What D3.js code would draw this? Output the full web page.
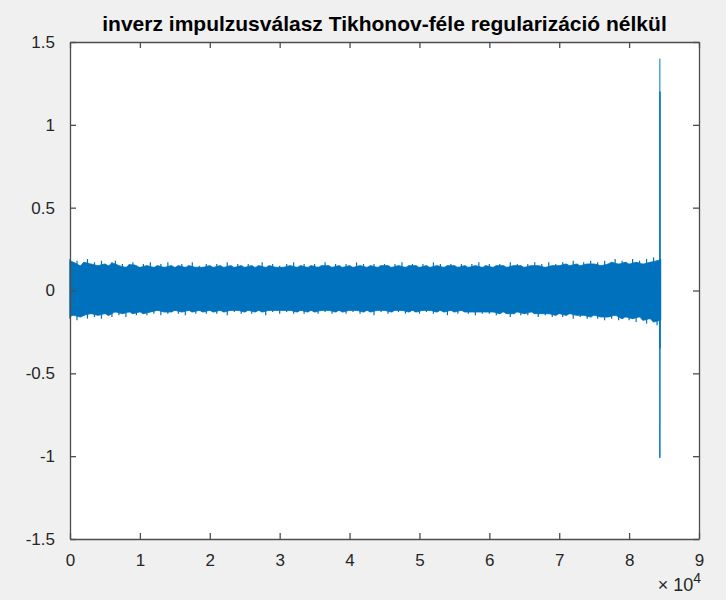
<!DOCTYPE html>
<html>
<head>
<meta charset="utf-8">
<script src="https://cdn.jsdelivr.net/npm/d3@7"></script>
<style>
body{margin:0;background:#f0f0f0;}
svg{display:block;font-family:"Liberation Sans",Arial,sans-serif;}
</style>
</head>
<body>
<svg id="svg" width="726" height="600"></svg>
<script>
var step=500;
var upper=[
0.19,0.17,0.18,0.15,0.17,0.19,0.16,0.17,0.15,0.18,
0.16,0.15,0.17,0.18,0.15,0.16,0.14,0.16,0.17,0.15,
0.14,0.16,0.15,0.17,0.14,0.15,0.16,0.14,0.17,0.15,
0.14,0.15,0.16,0.14,0.15,0.17,0.14,0.15,0.14,0.16,
0.15,0.14,0.16,0.15,0.14,0.17,0.15,0.14,0.16,0.15,
0.14,0.16,0.15,0.14,0.15,0.17,0.14,0.15,0.16,0.14,
0.15,0.14,0.16,0.15,0.17,0.14,0.15,0.16,0.14,0.15,
0.16,0.14,0.15,0.17,0.15,0.14,0.16,0.15,0.14,0.16,
0.15,0.14,0.17,0.15,0.16,0.14,0.15,0.16,0.14,0.15,
0.16,0.15,0.14,0.16,0.15,0.17,0.14,0.15,0.16,0.15,
0.14,0.16,0.15,0.14,0.17,0.15,0.16,0.14,0.15,0.16,
0.15,0.14,0.16,0.15,0.14,0.16,0.15,0.17,0.14,0.15,
0.16,0.14,0.15,0.16,0.15,0.14,0.17,0.15,0.16,0.15,
0.14,0.16,0.15,0.17,0.15,0.16,0.14,0.17,0.15,0.16,
0.15,0.17,0.16,0.15,0.18,0.16,0.15,0.17,0.16,0.18,
0.16,0.17,0.15,0.18,0.16,0.17,0.19,0.16,0.18,0.17,
0.16,0.19,0.17,0.18,0.16,0.19,0.17,0.20,0.18,0.19];
var lower=[
-0.17,-0.15,-0.18,-0.16,-0.15,-0.17,-0.14,-0.16,-0.15,-0.17,
-0.14,-0.15,-0.16,-0.13,-0.15,-0.14,-0.16,-0.13,-0.14,-0.15,
-0.13,-0.14,-0.15,-0.13,-0.14,-0.12,-0.15,-0.13,-0.14,-0.13,
-0.12,-0.14,-0.13,-0.15,-0.12,-0.13,-0.14,-0.12,-0.13,-0.14,
-0.12,-0.13,-0.14,-0.12,-0.13,-0.15,-0.12,-0.13,-0.12,-0.14,
-0.13,-0.12,-0.14,-0.13,-0.12,-0.13,-0.15,-0.12,-0.13,-0.12,
-0.14,-0.12,-0.13,-0.12,-0.14,-0.13,-0.12,-0.14,-0.13,-0.12,
-0.13,-0.14,-0.12,-0.13,-0.12,-0.14,-0.13,-0.12,-0.13,-0.14,
-0.12,-0.13,-0.12,-0.14,-0.13,-0.12,-0.13,-0.15,-0.12,-0.13,
-0.12,-0.14,-0.13,-0.12,-0.13,-0.12,-0.14,-0.13,-0.12,-0.13,
-0.14,-0.12,-0.13,-0.12,-0.14,-0.13,-0.12,-0.13,-0.15,-0.12,
-0.13,-0.14,-0.12,-0.13,-0.14,-0.13,-0.15,-0.13,-0.14,-0.13,
-0.14,-0.13,-0.15,-0.14,-0.13,-0.14,-0.16,-0.14,-0.13,-0.15,
-0.14,-0.15,-0.13,-0.14,-0.16,-0.14,-0.15,-0.14,-0.16,-0.15,
-0.14,-0.16,-0.15,-0.14,-0.17,-0.15,-0.16,-0.15,-0.17,-0.16,
-0.15,-0.17,-0.16,-0.18,-0.16,-0.17,-0.15,-0.18,-0.17,-0.16,
-0.18,-0.17,-0.19,-0.16,-0.18,-0.20,-0.17,-0.19,-0.21,-0.18];
// the spike near the end of the response
var spikeX=[84400,84400,84420,84420,84440,84440];
var spikeY=[1.4,-1.01,1.2,-0.35,0.1,0];

var xTicks=[0,10000,20000,30000,40000,50000,60000,70000,80000,90000];
var xTickLabels=["0","1","2","3","4","5","6","7","8","9"];
var yTicks=[-1.5,-1,-0.5,0,0.5,1,1.5];
var yTickLabels=["-1.5","-1","-0.5","0","0.5","1","1.5"];
var title="inverz impulzusválasz Tikhonov-féle regularizáció nélkül";

var L=70,R=699,T=42,B=539;
var axisCol="#4d4d4d",textCol="#262626",lineCol="#0072bd";

function draw(){
    var svg=d3.select("#svg");
    var x=d3.scaleLinear().domain([0,90000]).range([L,R]);
    var y=d3.scaleLinear().domain([-1.5,1.5]).range([B,T]);

    svg.append("rect").attr("x",L).attr("y",T).attr("width",R-L).attr("height",B-T)
    .style("fill","#fff");

    var band=upper.map(function(d,i){return {s:i*step,hi:d,lo:lower[i]}});
    // solid core a bit under the peaks, so each bin's own peak sticks out as a spike
    band.forEach(function(d,i){
        var a=band[Math.max(i-1,0)],b=band[Math.min(i+1,band.length-1)];
        d.coreHi=Math.min(d.hi,(a.hi+b.hi)/2);
        d.coreLo=Math.max(d.lo,(a.lo+b.lo)/2);
    });
    var area=d3.area().x(function(d){return x(d.s)})
    .y0(function(d){return y(d.coreLo)}).y1(function(d){return y(d.coreHi)})
    .curve(d3.curveMonotoneX);
    svg.append("path").datum(band).attr("d",area)
    .style("fill",lineCol).style("stroke",lineCol).style("stroke-width",0.8);

    svg.selectAll("line.spk").data(band).enter().append("line").attr("class","spk")
    .attr("x1",function(d){return x(d.s)}).attr("x2",function(d){return x(d.s)})
    .attr("y1",function(d){return y(d.hi)}).attr("y2",function(d){return y(d.lo)})
    .style("stroke",lineCol).style("stroke-width",1.2);

    var spike=spikeX.map(function(d,i){return [d,spikeY[i]]});
    var line=d3.line().x(function(d){return x(d[0])}).y(function(d){return y(d[1])});
    svg.append("path").datum(spike).attr("d",line)
    .style("fill","none").style("stroke",lineCol).style("stroke-width",1);

    // axes, MATLAB-style box with inward ticks
    var tl=6;
    var bottom=d3.axisBottom(x).tickValues(xTicks).tickSize(-tl).tickSizeOuter(0)
    .tickFormat(function(d,i){return xTickLabels[i]}).tickPadding(15);
    var top=d3.axisTop(x).tickValues(xTicks).tickSize(-tl).tickSizeOuter(0).tickFormat("");
    var left=d3.axisLeft(y).tickValues(yTicks).tickSize(-tl).tickSizeOuter(0)
    .tickFormat(function(d,i){return yTickLabels[i]}).tickPadding(15);
    var right=d3.axisRight(y).tickValues(yTicks).tickSize(-tl).tickSizeOuter(0).tickFormat("");

    var gs=[
        svg.append("g").attr("transform","translate(0,"+B+")").call(bottom),
        svg.append("g").attr("transform","translate(0,"+T+")").call(top),
        svg.append("g").attr("transform","translate("+L+",0)").call(left),
        svg.append("g").attr("transform","translate("+R+",0)").call(right)
    ];
    gs.forEach(function(g){
        g.select(".domain").style("stroke",axisCol).style("stroke-width",1.3);
        g.selectAll(".tick line").style("stroke",axisCol).style("stroke-width",1.3);
        g.selectAll(".tick text").style("fill",textCol).style("font-size","17px")
        .style("font-family","'Liberation Sans',Arial,sans-serif");
    });

    var ex=svg.append("text").attr("x",R+2).attr("y",591).attr("text-anchor","end")
    .style("fill",textCol).style("font-size","18px");
    ex.append("tspan").text("\u00d7 ").style("font-size","18px");
    ex.append("tspan").text("10");
    ex.append("tspan").text("4").attr("dy",-8).style("font-size","14px");

    svg.append("text").text(title)
    .attr("x",(L+R)/2).attr("y",31).attr("text-anchor","middle")
    .style("fill","#000").style("font-size","21px").style("font-weight","bold");
}

draw();
</script>
</body>
</html>
